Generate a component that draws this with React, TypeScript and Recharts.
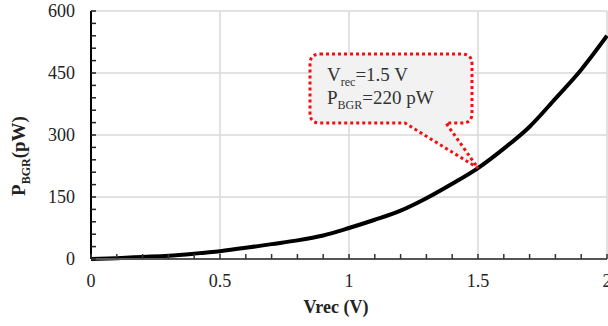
import { LineChart, Line, XAxis, YAxis, CartesianGrid, ReferenceDot, Label } from 'recharts';

const vrec = [0, 0.1, 0.2, 0.3, 0.4, 0.5, 0.6, 0.7, 0.8, 0.9, 1.0, 1.1, 1.2, 1.3, 1.4, 1.5, 1.6, 1.7, 1.8, 1.9, 2.0];
const pbgr = [0, 2, 5, 8, 13, 19, 27, 36, 45, 57, 75, 95, 117, 147, 182, 220, 267, 320, 388, 458, 540];

const xTicks = [0, 0.1, 0.2, 0.3, 0.4, 0.5, 0.6, 0.7, 0.8, 0.9, 1, 1.1, 1.2, 1.3, 1.4, 1.5, 1.6, 1.7, 1.8, 1.9, 2];
const xLabels = [0, 0.5, 1, 1.5, 2];
const yTicks = [0, 30, 60, 90, 120, 150, 180, 210, 240, 270, 300, 330, 360, 390, 420, 450, 480, 510, 540, 570, 600];
const yLabels = [0, 150, 300, 450, 600];

const marker = { x: 1.5, y: 220 };

const data = vrec.map((v, i) => ({ v, p: pbgr[i] }));

const FONT = '"Liberation Serif", "Times New Roman", serif';

const isLabel = (list: number[], v: number) => list.some((l) => Math.abs(l - v) < 1e-6);

const XTick = (props: any) => {
  const { x, y, payload } = props;
  const v = payload.value;
  return (
    <g>
      <line x1={x} x2={x} y1={y} y2={y - 5} stroke="#333" strokeWidth={1.5} />
      {isLabel(xLabels, v) && (
        <text x={x} y={y + 28} textAnchor="middle" fontSize={18} fill="#222" fontFamily={FONT}>
          {v}
        </text>
      )}
    </g>
  );
};

const YTick = (props: any) => {
  const { x, y, payload } = props;
  const v = payload.value;
  return (
    <g>
      <line x1={x} x2={x + 5} y1={y} y2={y} stroke="#222" strokeWidth={1.5} />
      {isLabel(yLabels, v) && (
        <text x={x - 16} y={y} dy="0.35em" textAnchor="end" fontSize={18} fill="#222" fontFamily={FONT}>
          {v}
        </text>
      )}
    </g>
  );
};

// speech-bubble callout, tip sits on the data point
const Callout = (props: any) => {
  const { cx, cy } = props;
  const L = cx - 168, T = cy - 114, R = cx - 6, B = cy - 45, r = 10;
  const d = [
    `M ${L + r} ${T}`,
    `L ${R - r} ${T}`,
    `Q ${R} ${T} ${R} ${T + r}`,
    `L ${R} ${B - r}`,
    `Q ${R} ${B} ${R - r} ${B}`,
    `L ${cx - 32} ${B}`,
    `L ${cx} ${cy}`,
    `L ${cx - 73} ${B}`,
    `L ${L + r} ${B}`,
    `Q ${L} ${B} ${L} ${B - r}`,
    `L ${L} ${T + r}`,
    `Q ${L} ${T} ${L + r} ${T}`,
    'Z',
  ].join(' ');
  return (
    <g>
      <path d={d} fill="#f2f2f2" stroke="#f01010" strokeWidth={3} strokeDasharray="3 3" />
      <text x={cx - 151} y={cy - 87} fontSize={19} fill="#333" fontFamily={FONT}>
        <tspan>V</tspan>
        <tspan dy={5} fontSize={12}>rec</tspan>
        <tspan dy={-5}>=1.5 V</tspan>
      </text>
      <text x={cx - 151} y={cy - 64} fontSize={19} fill="#333" fontFamily={FONT}>
        <tspan>P</tspan>
        <tspan dy={5} fontSize={12}>BGR</tspan>
        <tspan dy={-5}>=220 pW</tspan>
      </text>
    </g>
  );
};

export default function App() {
  return (
    <div style={{ position: 'absolute', left: 0, top: 0, background: '#fff' }}>
      <LineChart width={608} height={326} data={data} margin={{ top: 11, right: 1, left: 0, bottom: 0 }}>
        <CartesianGrid
          horizontal
          vertical
          horizontalValues={[150, 300, 450, 600]}
          verticalValues={[0.5, 1, 1.5, 2]}
          stroke="#d9d9d9"
          strokeWidth={1.5}
        />
        <XAxis
          dataKey="v"
          type="number"
          domain={[0, 2]}
          ticks={xTicks}
          interval={0}
          height={67}
          tickSize={0}
          tickMargin={0}
          tickLine={false}
          tick={<XTick />}
          axisLine={{ stroke: '#555', strokeWidth: 2 }}
        >
          <Label
            content={(p: any) => {
              const vb = p.viewBox;
              return (
                <text
                  x={vb.x + vb.width / 2 - 13}
                  y={vb.y + 54}
                  textAnchor="middle"
                  fontSize={18}
                  fontWeight="bold"
                  fill="#222"
                  fontFamily={FONT}
                >
                  Vrec (V)
                </text>
              );
            }}
          />
        </XAxis>
        <YAxis
          type="number"
          domain={[0, 600]}
          ticks={yTicks}
          interval={0}
          width={91}
          tickSize={0}
          tickMargin={0}
          tickLine={false}
          tick={<YTick />}
          axisLine={{ stroke: '#000', strokeWidth: 2 }}
        >
          <Label
            content={(p: any) => {
              const vb = p.viewBox;
              const tx = vb.x + 25;
              const ty = vb.y + vb.height / 2 + 21;
              return (
                <text
                  x={tx}
                  y={ty}
                  transform={`rotate(-90 ${tx} ${ty})`}
                  textAnchor="middle"
                  fontSize={19}
                  fontWeight="bold"
                  fill="#222"
                  fontFamily={FONT}
                >
                  <tspan>P</tspan>
                  <tspan dy={5} fontSize={12}>BGR</tspan>
                  <tspan dy={-5}>(pW)</tspan>
                </text>
              );
            }}
          />
        </YAxis>
        <Line
          dataKey="p"
          type="monotone"
          stroke="#000"
          strokeWidth={4}
          dot={false}
          isAnimationActive={false}
        />
        <ReferenceDot x={marker.x} y={marker.y} shape={<Callout />} />
      </LineChart>
    </div>
  );
}
